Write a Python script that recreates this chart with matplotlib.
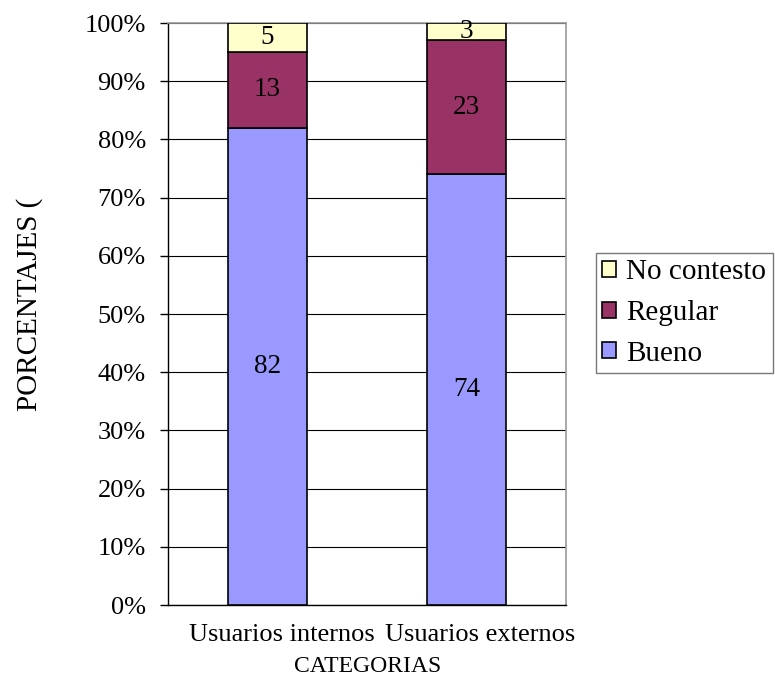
import matplotlib
matplotlib.use("Agg")
import matplotlib.pyplot as plt
from matplotlib.patches import Patch
from matplotlib.transforms import ScaledTranslation
import numpy as np

categories = ["Usuarios internos", "Usuarios externos"]
bueno = [82, 74]
regular = [13, 23]
no_contesto = [5, 3]

plt.rcParams["font.family"] = ["Liberation Serif", "DejaVu Serif"]

fig = plt.figure(figsize=(7.75, 6.79), dpi=100)
ax = fig.add_axes([168 / 775, 1 - 605 / 679, 398 / 775, 582 / 679])

x = np.arange(len(categories))
w = 0.4
colors = {"Bueno": "#9999FF", "Regular": "#993366", "No contesto": "#FFFFCC"}

bottom = np.zeros(len(categories))
for name, vals in [("Bueno", bueno), ("Regular", regular), ("No contesto", no_contesto)]:
    vals = np.array(vals, dtype=float)
    ax.bar(x, vals, w, bottom=bottom, color=colors[name], edgecolor="black",
           linewidth=1.2, zorder=3)
    for xi, b, v in zip(x, bottom, vals):
        ax.text(xi, b + v / 2, f"{int(v)}", ha="center", va="center",
                fontsize=19.5, zorder=4, clip_on=False)
    bottom += vals

ax.set_xlim(-0.5, 1.5)
ax.set_ylim(0, 100)
ax.set_yticks(np.arange(0, 101, 10))
ax.set_yticklabels([f"{v}%" for v in range(0, 101, 10)], fontsize=19)
ax.yaxis.grid(True, color="black", linewidth=0.8, zorder=0)
ax.set_xticks(x)
ax.set_xticklabels(categories, fontsize=19)
ax.tick_params(axis="x", length=0, pad=14)
ax.tick_params(axis="y", length=6, width=1, direction="out", pad=10)

shift = ScaledTranslation(14 / 100, 0, fig.dpi_scale_trans)
for lbl in ax.get_xticklabels():
    lbl.set_transform(lbl.get_transform() + shift)

for s in ["top", "right"]:
    ax.spines[s].set_color("#999999")
    ax.spines[s].set_linewidth(1.2)
for s in ["left", "bottom"]:
    ax.spines[s].set_color("black")
    ax.spines[s].set_linewidth(1)

fig.text(368 / 775, 1 - 667 / 679, "CATEGORIAS",
         ha="center", va="center", fontsize=17)
fig.text(30 / 775, 1 - 304 / 679, "PORCENTAJES (", rotation=90,
         ha="center", va="center", fontsize=21)

handles = [Patch(facecolor=colors[n], edgecolor="black", linewidth=1.2)
           for n in ["No contesto", "Regular", "Bueno"]]
leg = fig.legend(handles, ["No contesto", "Regular", "Bueno"],
                 loc="upper left", bbox_to_anchor=(596 / 775, 1 - 253 / 679),
                 fontsize=21, frameon=True, fancybox=False, edgecolor="#555555",
                 handlelength=0.48, handleheight=0.48, handletextpad=0.34,
                 labelspacing=0.5, borderpad=0.22, borderaxespad=0)
leg.get_frame().set_linewidth(1)

fig.savefig("out.png", dpi=100)
